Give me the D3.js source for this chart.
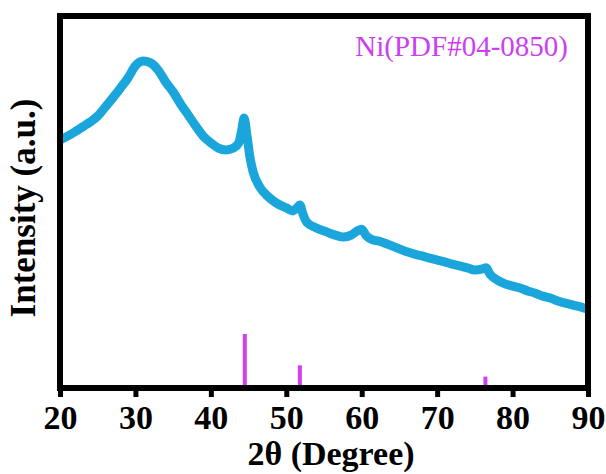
<!DOCTYPE html>
<html>
<head>
<meta charset="utf-8">
<script src="https://cdn.jsdelivr.net/npm/d3@7"></script>
<style>
  body { margin: 0; background: #fff; }
  text { font-family: "Liberation Serif", "Times New Roman", serif; }
</style>
</head>
<body>
<svg id="chart"></svg>
<script>
// measured XRD pattern (2theta in degrees, intensity in arbitrary units)
twoTheta = [20, 21, 22, 23, 24, 25, 26, 27, 28, 29, 30, 31, 32, 33, 34, 35, 36, 37, 38, 39,
            40, 41, 42, 43, 43.7, 44.1, 44.4, 44.8, 45.2, 45.6, 46.5, 47.5, 48.7, 50, 50.9, 51.4, 51.8, 52.2, 52.7,
            54, 55.4, 56.5, 57.6, 58.6, 59.4, 60, 60.6, 61.5, 62, 63, 64, 65, 66, 67, 68, 69, 70, 71, 72,
            73, 74, 75, 76, 76.5, 77, 78, 79, 80, 81, 82, 83, 84, 85, 86, 87, 88, 89, 90];
intensity = [66.7, 67.7, 68.9, 70.2, 71.5, 73.1, 75.5, 78.0, 80.6, 83.3, 86.6, 87.9, 87.4, 85.5, 82.3, 79.6, 76.3, 73.4, 70.4, 67.7,
             65.9, 64.5, 64.0, 64.5, 65.9, 69.4, 72.6, 67.7, 61.8, 58.1, 54.0, 51.6, 49.7, 48.4, 47.6, 48.4, 49.2, 46.8, 44.6,
             43.0, 41.9, 41.1, 40.6, 41.1, 42.2, 42.7, 40.9, 39.8, 39.6, 39.0, 38.2, 37.4, 36.6, 36.0, 35.5, 34.9, 34.4, 33.9, 33.3,
             32.8, 32.3, 31.7, 32.0, 32.3, 30.6, 29.0, 28.0, 27.4, 26.9, 26.1, 25.5, 24.7, 24.2, 23.4, 22.8, 22.3, 21.8, 21.2];

// reference card Ni PDF#04-0850
refLabel = "Ni(PDF#04-0850)";
refPos = [44.5, 51.8, 76.4];
refInt = [100, 42, 21];

xTicks = [20, 30, 40, 50, 60, 70, 80, 90];

var W = 606, H = 474;
var pLeft = 60, pRight = 588, pTop = 16, pBottom = 388;

var svg = d3.select('#chart').attr('width', W).attr('height', H);

var x = d3.scaleLinear().domain([20, 90]).range([pLeft, pRight]);
var y = d3.scaleLinear().domain([0, 100]).range([pBottom, pTop]);
var yRef = d3.scaleLinear().domain([0, 100]).range([pBottom, pBottom - 54]);

var pts = twoTheta.map(function(t, i) { return [t, intensity[i]]; });

var line = d3.line()
  .x(function(d) { return x(d[0]); })
  .y(function(d) { return y(d[1]); })
  .curve(d3.curveMonotoneX);

svg.append('path')
  .datum(pts)
  .attr('d', line)
  .attr('fill', 'none')
  .attr('stroke', '#1aa6db')
  .attr('stroke-width', 9)
  .attr('stroke-linejoin', 'round');

// reference sticks
svg.selectAll('.stick').data(refPos).enter()
  .append('line')
  .attr('class', 'stick')
  .attr('x1', function(d) { return x(d); })
  .attr('x2', function(d) { return x(d); })
  .attr('y1', pBottom)
  .attr('y2', function(d, i) { return yRef(refInt[i]); })
  .attr('stroke', '#d23ef2')
  .attr('stroke-width', 4);

svg.append('text')
  .text(refLabel)
  .attr('x', 568)
  .attr('y', 56)
  .attr('text-anchor', 'end')
  .attr('font-size', 29)
  .attr('fill', '#cc3ff0');

// frame
svg.append('rect')
  .attr('x', pLeft).attr('y', pTop)
  .attr('width', pRight - pLeft).attr('height', pBottom - pTop)
  .attr('fill', 'none')
  .attr('stroke', '#000')
  .attr('stroke-width', 6);

var xAxis = svg.append('g')
  .attr('transform', 'translate(0,' + pBottom + ')')
  .call(d3.axisBottom(x).tickValues(xTicks).tickSize(9).tickPadding(8).tickFormat(d3.format('d')));
xAxis.select('.domain').remove();
xAxis.selectAll('line').attr('stroke', '#000').attr('stroke-width', 5);
xAxis.selectAll('text')
  .attr('font-size', 34)
  .attr('font-weight', 'bold')
  .attr('font-family', '"Liberation Serif", "Times New Roman", serif')
  .attr('fill', '#000');

svg.append('text')
  .text('2θ (Degree)')
  .attr('x', 331)
  .attr('y', 465)
  .attr('text-anchor', 'middle')
  .attr('font-size', 34)
  .attr('font-weight', 'bold');

svg.append('text')
  .text('Intensity (a.u.)')
  .attr('transform', 'translate(35,208) rotate(-90)')
  .attr('text-anchor', 'middle')
  .attr('font-size', 35)
  .attr('font-weight', 'bold');
</script>
</body>
</html>
